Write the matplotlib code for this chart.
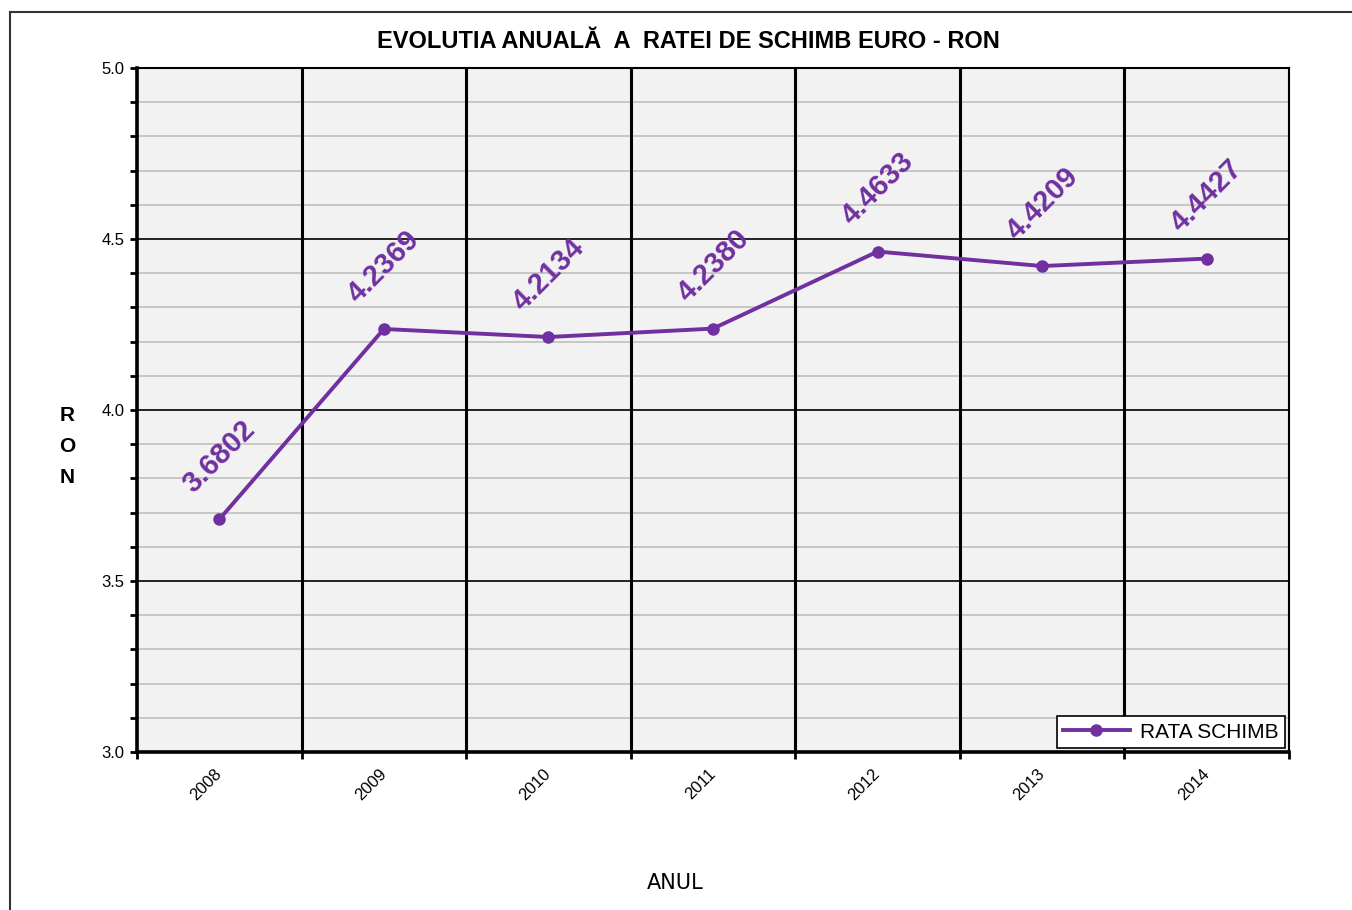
import matplotlib
matplotlib.use('Agg')
from matplotlib import pyplot as plt, ticker
from matplotlib.lines import Line2D
import numpy as np

plt.rcParams['font.family'] = ['Liberation Sans', 'DejaVu Sans']

years = ['2008', '2009', '2010', '2011', '2012', '2013', '2014']
rata = [3.6802, 4.2369, 4.2134, 4.2380, 4.4633, 4.4209, 4.4427]
labels = ['3.6802', '4.2369', '4.2134', '4.2380', '4.4633', '4.4209', '4.4427']

purple = '#7030A0'

fig = plt.figure(figsize=(13.52, 9.1), dpi=100)
ax = fig.add_axes([137/1352, 1-752/910, (1289-137)/1352, (752-68)/910])
ax.set_facecolor('#F2F2F2')

x = np.arange(len(years))
ax.plot(x, rata, color=purple, lw=2.8, marker='o', ms=8, label='RATA SCHIMB', zorder=4)

for xi, v, s in zip(x, rata, labels):
    ax.annotate(s, (xi, v), xytext=(0, 45), textcoords='offset points',
                ha='center', va='center', rotation=45, color=purple,
                fontsize=21, fontweight='bold', zorder=5)

ax.set_xlim(-0.5, len(years) - 0.5)
ax.set_ylim(3.0, 5.0)

# y grid: major black, minor gray
ax.yaxis.set_major_locator(ticker.MultipleLocator(0.5))
ax.yaxis.set_minor_locator(ticker.MultipleLocator(0.1))
ax.yaxis.set_major_formatter(ticker.FormatStrFormatter('%.1f'))
ax.grid(axis='y', which='major', color='black', lw=1.2, zorder=1)
ax.grid(axis='y', which='minor', color='#BFBFBF', lw=1.2, zorder=1)

# category separators
for b in np.arange(0.5, len(years) - 0.5, 1):
    ax.axvline(b, color='black', lw=2.2, zorder=2)

ax.set_xticks(x)
ax.set_xticklabels(years, rotation=45, ha='right', va='center',
                   rotation_mode='anchor', fontsize=12)
ax.set_xticks(np.arange(-0.5, len(years), 1), minor=True)
ax.tick_params(axis='x', which='major', length=0, pad=14)
ax.tick_params(axis='x', which='minor', length=5, width=2, direction='out')
ax.tick_params(axis='y', which='major', length=5, width=2, labelsize=12, pad=4)
ax.tick_params(axis='y', which='minor', length=5, width=2)

for side in ['left', 'bottom']:
    ax.spines[side].set_linewidth(2.6)
for side in ['right', 'top']:
    ax.spines[side].set_linewidth(1.5)

fig.text(688/1352, 1-42/910, 'EVOLUTIA ANUALĂ  A  RATEI DE SCHIMB EURO - RON',
         ha='center', va='center', fontsize=17, fontweight='bold')
fig.text(67/1352, 1-446/910, 'R\nO\nN', ha='center', va='center',
         fontsize=15, fontweight='bold', linespacing=1.8)
fig.text(675/1352, 1-883/910, 'ANUL', ha='center', va='center', fontsize=15,
         family=['DejaVu Sans'])

leg = ax.legend(loc='lower right', fontsize=15, frameon=True, fancybox=False,
                borderaxespad=0.2, handlelength=3.2, borderpad=0.3,
                handletextpad=0.5)
leg.get_frame().set_edgecolor('black')
leg.get_frame().set_linewidth(1.2)
leg.get_frame().set_facecolor('white')
leg.get_frame().set_alpha(1)

# outer chart border
fig.add_artist(Line2D([10/1352, 10/1352], [0, 1-12/910], transform=fig.transFigure,
                      color='#333333', lw=1.5))
fig.add_artist(Line2D([10/1352, 1], [1-12/910, 1-12/910], transform=fig.transFigure,
                      color='#333333', lw=1.5))

fig.savefig('out.png', dpi=100)
